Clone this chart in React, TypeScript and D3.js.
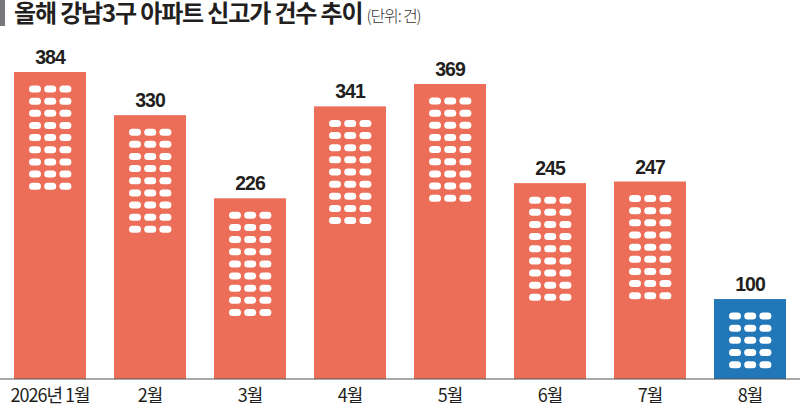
import * as d3 from "d3";
import { useEffect, useRef } from "react";

const months = ["2026년 1월", "2월", "3월", "4월", "5월", "6월", "7월", "8월"];
const counts = [384, 330, 226, 341, 369, 245, 247, 100];
const windowRows = [9, 9, 9, 9, 9, 9, 9, 5];
const windowCols = [0, 1, 2];

const width = 800;
const height = 407;
const font = "'Noto Sans CJK KR', 'Noto Sans', sans-serif";
const numFont = "'Liberation Sans', Arial, sans-serif";
const baseY = 379;

function createChart(svgEl: SVGSVGElement) {
  const svg = d3.select(svgEl);
  svg.selectAll("*").remove();

  const xScale = d3
    .scaleBand()
    .domain(months)
    .range([0, width])
    .paddingInner(0.28)
    .paddingOuter(0.14);
  const yScale = d3.scaleLinear().domain([0, 384]).range([baseY, 72]);

  // title
  svg.append("rect").attr("x", 0).attr("y", 0).attr("width", 5).attr("height", 26).attr("fill", "#77787b");
  const title = svg
    .append("text")
    .attr("x", 14)
    .attr("y", 21.5)
    .attr("font-family", font)
    .attr("fill", "#231f20");
  title
    .append("tspan")
    .attr("font-size", 24)
    .attr("font-weight", 700)
    .attr("letter-spacing", -1.15)
    .text("올해 강남3구 아파트 신고가 건수 추이");
  title
    .append("tspan")
    .attr("dx", 4)
    .attr("font-size", 16)
    .attr("font-weight", 300)
    .attr("letter-spacing", -1.1)
    .attr("fill", "#333")
    .text("(단위: 건)");

  const bars = svg
    .append("g")
    .selectAll("g")
    .data(months)
    .enter()
    .append("g");

  bars
    .append("rect")
    .attr("x", (d) => xScale(d) as number)
    .attr("y", (d, i) => yScale(counts[i]))
    .attr("width", xScale.bandwidth())
    .attr("height", (d, i) => baseY - yScale(counts[i]))
    .attr("fill", (d, i) => (i === months.length - 1 ? "#2277b8" : "#ec6e58"));

  // little windows on each building
  bars.each(function (d, i) {
    const left = xScale(d) as number;
    const top = yScale(counts[i]);
    const g = d3.select(this);
    d3.range(windowRows[i]).forEach((r) => {
      windowCols.forEach((c) => {
        g.append("rect")
          .attr("x", left + 15 + c * 15.2)
          .attr("y", top + 13.5 + r * 12.15)
          .attr("width", 12)
          .attr("height", 7)
          .attr("rx", 3.5)
          .attr("fill", "#fff");
      });
    });
  });

  // value labels
  bars
    .append("text")
    .attr("x", (d) => (xScale(d) as number) + xScale.bandwidth() / 2)
    .attr("y", (d, i) => yScale(counts[i]) - 8)
    .attr("text-anchor", "middle")
    .attr("font-family", numFont)
    .attr("font-size", 19.5)
    .attr("font-weight", 700)
    .attr("letter-spacing", -1)
    .attr("fill", "#231f20")
    .text((d, i) => counts[i]);

  // axis
  const axis = svg
    .append("g")
    .attr("transform", `translate(0,${baseY})`)
    .call(d3.axisBottom(xScale).tickSize(0));
  axis.select("path").attr("d", `M0,0H${width}`).attr("stroke", "#555").attr("stroke-width", 1);
  axis
    .selectAll("text")
    .attr("y", 23)
    .attr("dy", 0)
    .attr("font-family", font)
    .attr("font-size", 18)
    .attr("letter-spacing", -1)
    .attr("fill", "#231f20");
}

export default function App() {
  const ref = useRef<SVGSVGElement>(null);
  useEffect(() => {
    if (ref.current) createChart(ref.current);
  }, []);
  return (
    <svg
      ref={ref}
      width={width}
      height={height}
      style={{ position: "absolute", left: 0, top: 0, background: "#fff" }}
    ></svg>
  );
}
